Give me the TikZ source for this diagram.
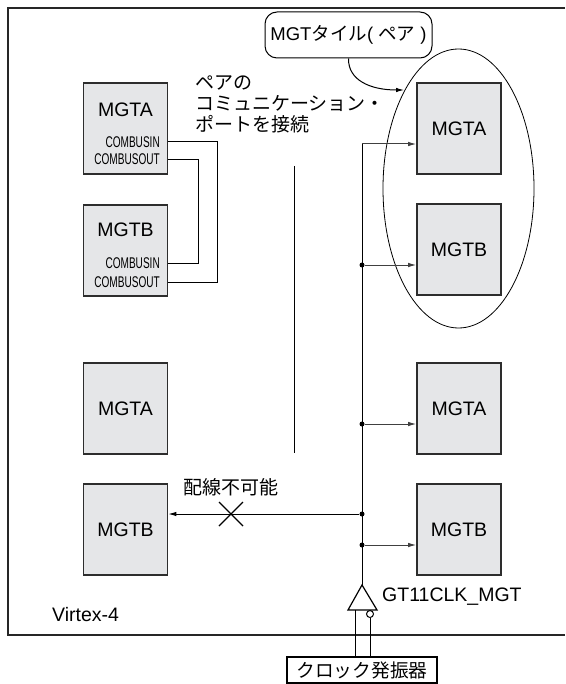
\documentclass[tikz,border=0pt]{standalone}
\usepackage{fontspec}
\setmainfont{Liberation Sans}
\newfontfamily\jp{Noto Sans CJK JP}
\newfontfamily\cond[FakeStretch=0.65]{Liberation Sans}
\usetikzlibrary{arrows.meta,shapes.geometric}
\definecolor{boxfill}{RGB}{229,230,232}
\definecolor{edge}{RGB}{45,45,45}
\begin{document}
\begin{tikzpicture}[x=1pt,y=-1pt,
  mgt/.style={draw=edge,line width=1.6pt,fill=boxfill,minimum width=84pt,minimum height=91pt,inner sep=0pt,font=\fontsize{19.5}{21}\selectfont},
  lbl/.style={font=\fontsize{19.5}{21}\selectfont,inner sep=0pt},
  comb/.style={font=\cond\fontsize{15.5}{16}\selectfont,inner sep=0pt,anchor=east},
  wire/.style={line width=1pt,draw=black},
  arr/.style={wire,-{Latex[length=8pt,width=4.5pt]}},
  garr/.style={arr,draw=black!75},
  dot/.style={circle,fill=black,inner sep=0pt,minimum size=5pt},
  jtext/.style={font=\jp\fontsize{19}{21}\selectfont,inner sep=0pt}
]
\useasboundingbox (0,0) rectangle (565,684);
% device frame
\draw[line width=2pt,draw=black!85] (565,8) -- (8,8) -- (8,635) -- (565,635);
\node[lbl,anchor=west] (virtex) at (52,615) {Virtex-4};

% left pair with COMBUS connections
\node[mgt] (la) at (125.5,128.4) {};
\node[lbl] (laT) at (125.5,110) {MGTA};
\node[comb] (laIn) at (160,142) {COMBUSIN};
\node[comb] (laOut) at (160,159.5) {COMBUSOUT};
\node[mgt] (lb) at (125.5,250.5) {};
\node[lbl] (lbT) at (125.5,230) {MGTB};
\node[comb] (lbIn) at (160,263.5) {COMBUSIN};
\node[comb] (lbOut) at (160,282) {COMBUSOUT};
\draw[wire] (la.east |- laIn) -- ++(49.5,0) |- (lb.east |- lbOut);
\draw[wire] (la.east |- laOut) -- ++(30.5,0) |- (lb.east |- lbIn);
\node[jtext,anchor=north west,align=left] (note) at (195,76)
  {ペアの\\コミュニケーション・\\ポートを接続};

% middle separator
\coordinate (m1) at (294,166);
\coordinate (m2) at (294,453);
\draw[wire] (m1) -- (m2);

% lower left boxes
\node[mgt] (lc) at (125.5,408.5) {MGTA};
\node[mgt] (ld) at (125.5,529.5) {MGTB};

% right boxes
\node[mgt] (ra) at (459,128.5) {MGTA};
\node[mgt] (rb) at (459,249.5) {MGTB};
\node[mgt] (rc) at (459,408.5) {MGTA};
\node[mgt] (rd) at (459,529.5) {MGTB};

% tile ellipse and callout
\node[draw,ellipse,line width=0.8pt,inner sep=0pt,minimum width=151pt,minimum height=279pt] (pair) at (458.5,188.5) {};
\node[draw,rounded corners=12pt,line width=1pt,minimum width=167pt,minimum height=46pt,inner sep=0pt,font=\fontsize{18.5}{20}\selectfont] (tile) at (348.5,35)
  {MGT{\jp タイル}( {\jp ペア} )};
\coordinate (tailEnd) at (404,90);
\draw[arr] (tile.south) .. controls (348,80) and (370,90) .. (tailEnd);

% clock buffer
\coordinate (bufTop) at (362,585);
\coordinate (bufL) at (348,610);
\coordinate (bufR) at (377,610);
\draw[line width=1.2pt] (bufTop) -- (bufR) -- (bufL) -- cycle;
\node[lbl,anchor=west] (gt) at (382,597) {GT11CLK\_MGT};
\node[draw,line width=1.5pt,minimum width=150pt,minimum height=26pt,inner sep=0pt,font=\jp\fontsize{18.7}{20}\selectfont] (clk) at (362,670) {クロック発振器};
\coordinate (inA) at (355,610);
\draw[wire] (inA) -- (inA |- clk.north);
\node[circle,draw,line width=1pt,inner sep=0pt,minimum size=7pt] (inv) at (370,614) {};
\draw[wire] (inv.south) -- (inv.south |- clk.north);

% clock bus
\coordinate (busTop) at (362,144);
\draw[wire] (bufTop) -- (busTop);
\draw[garr] (busTop) -- (ra.west |- busTop);
\node[dot] (d1) at (362,265) {};
\node[dot] (d2) at (362,424) {};
\node[dot] (d3) at (362,514) {};
\node[dot] (d4) at (362,545) {};
\draw[garr] (d1) -- (rb.west |- d1);
\draw[garr] (d2) -- (rc.west |- d2);
\draw[garr] (d4) -- (rd.west |- d4);
\draw[arr] (d3) -- (ld.east |- d3);

% not routable mark
\coordinate (cross) at (231,514);
\draw[line width=1.2pt] (cross) ++(-12,-12) -- ++(24,24);
\draw[line width=1.2pt] (cross) ++(-12,12) -- ++(24,-24);
\node[jtext] (nr) at (231,487) {配線不可能};
\end{tikzpicture}
\end{document}
